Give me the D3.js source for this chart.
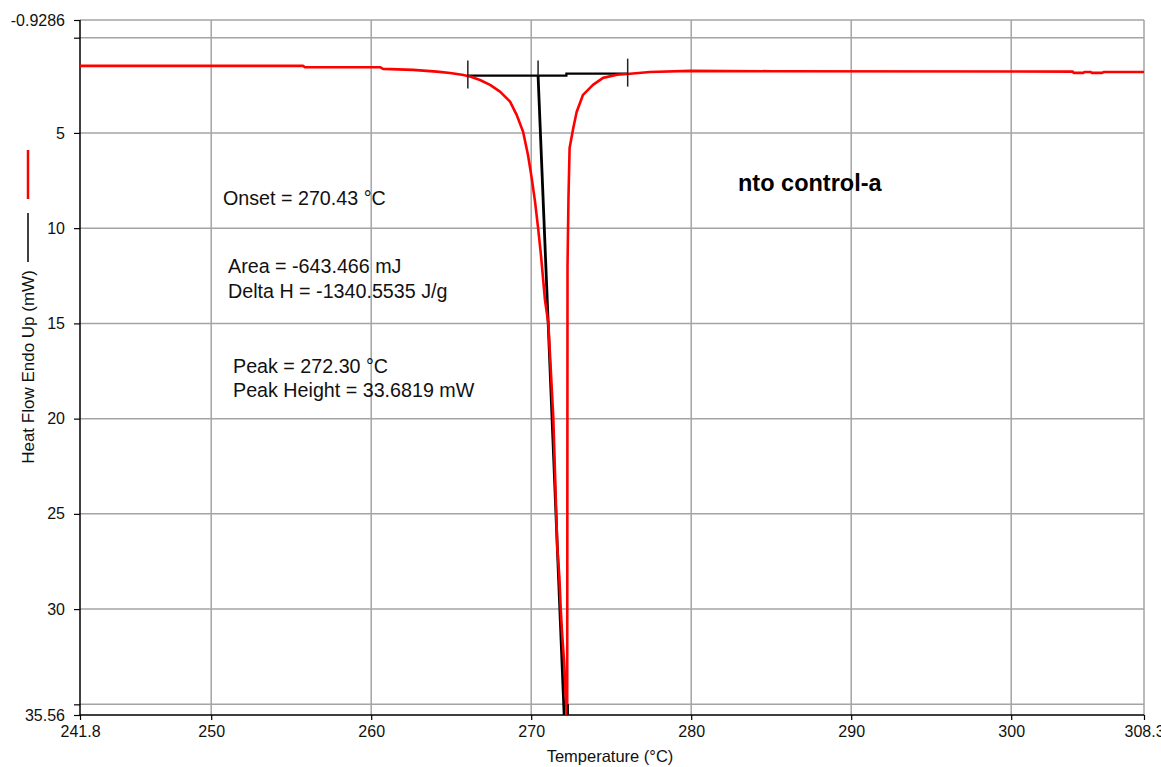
<!DOCTYPE html>
<html>
<head>
<meta charset="utf-8">
<script src="https://cdn.jsdelivr.net/npm/d3@7"></script>
<style>
  html, body { margin: 0; padding: 0; background: #fff; overflow: hidden; }
  svg { display: block; font-family: "Liberation Sans", Arial, sans-serif; }
</style>
</head>
<body>
<div id="chart"></div>
<script>
(function() {
"use strict";

// DSC trace (temperature in degC, heat flow in mW)
var temperature = [241.8, 255.74, 255.86, 260.55, 260.74, 262.61, 264.11, 264.93, 265.68,
  266.18, 266.8, 267.43, 268.05, 268.68, 269.09, 269.49, 269.8, 270.03, 270.24, 270.43,
  270.61, 270.86, 271.07, 271.38, 271.63, 271.76, 271.84, 271.93, 272.05, 272.16, 272.22,
  272.25, 272.27, 272.33, 272.4, 272.63, 272.84, 273.24, 273.86, 274.49, 275.36, 276.18,
  277.42, 279.92, 285.0, 303.85, 303.9, 304.5, 304.6, 304.95, 305.05, 305.68, 305.8, 308.3];
var heatFlow = [1.48, 1.48, 1.55, 1.55, 1.64, 1.69, 1.78, 1.85, 1.95,
  2.04, 2.22, 2.48, 2.83, 3.36, 4.05, 4.93, 6.16, 7.36, 8.61, 9.99,
  11.41, 13.77, 14.98, 19.92, 26.74, 28.32, 29.89, 31.26, 32.68, 34.62, 35.56,
  35.56, 12.0, 8.4, 5.79, 4.74, 3.9, 3.0, 2.48, 2.11, 1.95, 1.89,
  1.80, 1.74, 1.76, 1.78, 1.85, 1.85, 1.80, 1.80, 1.85, 1.85, 1.80, 1.80];

// peak integration baseline and onset tangent
var baselineT = [266.04, 272.2, 272.2, 276.03];
var baselineV = [1.99, 1.99, 1.886, 1.886];
var tangentT = [270.43, 272.06];
var tangentV = [1.99, 35.56];
var markT = [266.04, 270.43, 276.03];
var markV = [1.99, 1.99, 1.886];
var peakT = 272.30;
var peakV = [35.0, 35.56];

var xTicks = [241.8, 250, 260, 270, 280, 290, 300, 308.3];
var xLabels = ["241.8", "250", "260", "270", "280", "290", "300", "308.3"];
var yTicks = [-0.9286, 0, 5, 10, 15, 20, 25, 30, 35, 35.56];
var yLabels = ["-0.9286", "", "5", "10", "15", "20", "25", "30", "", "35.56"];

var notes = ["Onset = 270.43 °C", "Area = -643.466 mJ", "Delta H = -1340.5535 J/g",
  "Peak = 272.30 °C", "Peak Height = 33.6819 mW"];
var sampleName = "nto control-a";

var W = 1161, H = 767;
var left = 80, right = 1144, top = 20, bottom = 715;

var svg = d3.select("#chart").append("svg")
  .attr("width", W)
  .attr("height", H);

var x = d3.scaleLinear().domain([241.8, 308.3]).range([left, right]);
var y = d3.scaleLinear().domain([-0.9286, 35.56]).range([top, bottom]);

svg.append("defs").append("clipPath").attr("id", "plotclip")
  .append("rect")
  .attr("x", left).attr("y", top)
  .attr("width", right - left).attr("height", bottom - top);

// grid
var grid = svg.append("g").attr("stroke", "#a4a4a4").attr("stroke-width", 1.5);
grid.selectAll("line.v")
  .data(xTicks.slice(1))
  .enter().append("line")
  .attr("x1", function(d) { return x(d); })
  .attr("x2", function(d) { return x(d); })
  .attr("y1", top).attr("y2", bottom);
grid.selectAll("line.h")
  .data(yTicks.slice(0, -1))
  .enter().append("line")
  .attr("y1", function(d) { return y(d); })
  .attr("y2", function(d) { return y(d); })
  .attr("x1", left).attr("x2", right);

// axes
var xAxis = d3.axisBottom(x)
  .tickValues(xTicks)
  .tickSize(5)
  .tickFormat(function(d, i) { return xLabels[i]; });
var yAxis = d3.axisLeft(y)
  .tickValues(yTicks)
  .tickSize(6)
  .tickFormat(function(d, i) { return yLabels[i]; });

var gx = svg.append("g").attr("transform", "translate(0," + bottom + ")").call(xAxis);
var gy = svg.append("g").attr("transform", "translate(" + left + ",0)").call(yAxis);
[gx, gy].forEach(function(g) {
  g.select(".domain").attr("stroke", "#000").attr("stroke-width", 1.5);
  g.selectAll(".tick line").attr("stroke", "#000").attr("stroke-width", 1.2);
  g.selectAll(".tick text")
    .attr("fill", "#111")
    .style("font-size", "16px")
    .style("font-family", "'Liberation Sans', Arial, sans-serif");
});
gx.select(".domain").attr("d", "M" + left + ",0H" + right);
gy.select(".domain").attr("d", "M0," + top + "V" + bottom);
gx.selectAll(".tick text").attr("y", 11);
gy.selectAll(".tick text").attr("x", -15);

// curves
var plot = svg.append("g").attr("clip-path", "url(#plotclip)");
var line = d3.line()
  .x(function(d) { return x(d[0]); })
  .y(function(d) { return y(d[1]); });

plot.append("path")
  .datum(d3.zip(baselineT, baselineV))
  .attr("d", line)
  .attr("fill", "none")
  .attr("stroke", "#000")
  .attr("stroke-width", 2.2);

plot.append("path")
  .datum(d3.zip(tangentT, tangentV))
  .attr("d", line)
  .attr("fill", "none")
  .attr("stroke", "#000")
  .attr("stroke-width", 2.8);

plot.append("path")
  .datum(d3.zip(temperature, heatFlow))
  .attr("d", line)
  .attr("fill", "none")
  .attr("stroke", "#ff0000")
  .attr("stroke-width", 2.6)
  .attr("stroke-linejoin", "round");

plot.append("line")
  .attr("x1", x(peakT)).attr("x2", x(peakT))
  .attr("y1", y(peakV[0])).attr("y2", y(peakV[1]))
  .attr("stroke", "#000").attr("stroke-width", 2);

plot.selectAll("line.mark")
  .data(d3.zip(markT, markV))
  .enter().append("line")
  .attr("x1", function(d) { return x(d[0]); })
  .attr("x2", function(d) { return x(d[0]); })
  .attr("y1", function(d, i) { return y(d[1]) - 15; })
  .attr("y2", function(d, i) { return i === 1 ? y(d[1]) : y(d[1]) + 13; })
  .attr("stroke", "#222")
  .attr("stroke-width", 1.5);

// annotations
var notePos = [[223, 205], [228, 273], [228, 298], [233, 373], [233, 397]];
svg.selectAll("text.note")
  .data(notes)
  .enter().append("text")
  .attr("class", "note")
  .attr("x", function(d, i) { return notePos[i][0]; })
  .attr("y", function(d, i) { return notePos[i][1]; })
  .attr("fill", "#111")
  .style("font-size", "19.7px")
  .text(function(d) { return d; });

svg.append("text")
  .attr("x", 738).attr("y", 191)
  .attr("fill", "#000")
  .style("font-size", "23.5px")
  .style("font-weight", "bold")
  .text(sampleName);

// axis titles
svg.append("text")
  .attr("x", 610).attr("y", 762)
  .attr("text-anchor", "middle")
  .attr("fill", "#111")
  .style("font-size", "16.5px")
  .text("Temperature (°C)");

svg.append("text")
  .attr("transform", "translate(34,367) rotate(-90)")
  .attr("text-anchor", "middle")
  .attr("fill", "#111")
  .style("font-size", "17px")
  .text("Heat Flow Endo Up (mW)");

// legend strokes beside the y title
svg.append("line")
  .attr("x1", 28).attr("x2", 28).attr("y1", 150).attr("y2", 199)
  .attr("stroke", "#ff0000").attr("stroke-width", 2.5);
svg.append("line")
  .attr("x1", 28).attr("x2", 28).attr("y1", 213).attr("y2", 262)
  .attr("stroke", "#000").attr("stroke-width", 1.5);

})();
</script>
</body>
</html>
